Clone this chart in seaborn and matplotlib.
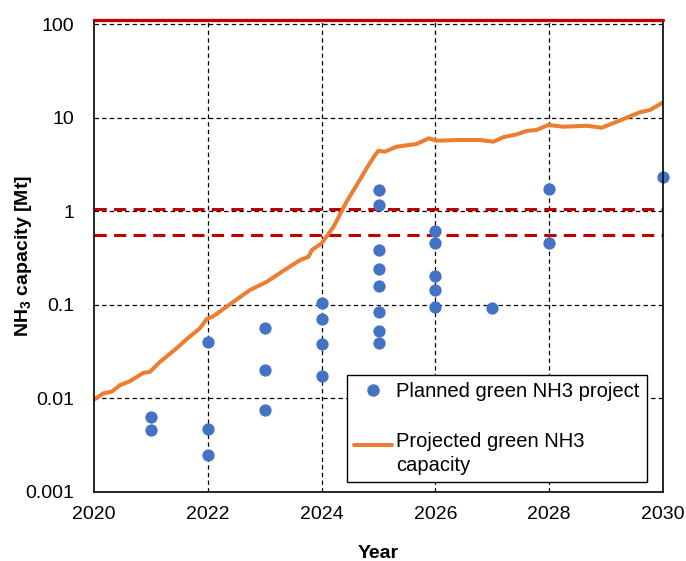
import numpy as np
import pandas as pd
import matplotlib
matplotlib.use("Agg")
import matplotlib.pyplot as plt
from matplotlib.lines import Line2D
import seaborn as sns

# Planned green ammonia projects (start year, capacity in Mt)
project_years = [2021, 2021,
                 2022, 2022, 2022,
                 2023, 2023, 2023,
                 2024, 2024, 2024, 2024,
                 2025, 2025, 2025, 2025, 2025, 2025, 2025, 2025,
                 2026, 2026, 2026, 2026, 2026,
                 2027,
                 2028, 2028,
                 2030]
project_capacity = [0.0063, 0.0046,
                    0.040, 0.0047, 0.0025,
                    0.057, 0.020, 0.0076,
                    0.104, 0.070, 0.038, 0.0173,
                    1.69, 1.17, 0.39, 0.24, 0.159, 0.083, 0.052, 0.039,
                    0.62, 0.46, 0.203, 0.143, 0.096,
                    0.093,
                    1.72, 0.455,
                    2.33]

# Projected cumulative green NH3 capacity (Mt)
proj_years = [2020.0, 2020.16, 2020.31, 2020.46, 2020.63, 2020.87, 2020.98,
              2021.16, 2021.45, 2021.63, 2021.86, 2021.98, 2022.10, 2022.45,
              2022.74, 2023.04, 2023.33, 2023.62, 2023.77, 2023.83, 2024.00,
              2024.21, 2024.44, 2024.67, 2024.79, 2024.94, 2025.00, 2025.11,
              2025.32, 2025.67, 2025.88, 2026.02, 2026.43, 2026.78, 2027.02,
              2027.19, 2027.43, 2027.60, 2027.78, 2027.98, 2028.25, 2028.66,
              2028.92, 2029.19, 2029.60, 2029.77, 2030.0]
proj_capacity = [0.0097, 0.0113, 0.0118, 0.0139, 0.0153, 0.0188, 0.0192,
                 0.0246, 0.0343, 0.0431, 0.0561, 0.0705, 0.0759, 0.108,
                 0.144, 0.177, 0.232, 0.301, 0.327, 0.386, 0.455,
                 0.684, 1.27, 2.16, 2.88, 4.0, 4.45, 4.34,
                 4.91, 5.25, 6.03, 5.69, 5.79, 5.79, 5.55,
                 6.19, 6.66, 7.23, 7.41, 8.37, 8.03, 8.22,
                 7.83, 9.08, 11.5, 12.1, 14.6]

# Reference levels (Mt)
total_level = 111
target_levels = [1.06, 0.56]

x_ticks = [2020, 2022, 2024, 2026, 2028, 2030]
y_ticks = [0.001, 0.01, 0.1, 1, 10, 100]
y_ticklabels = ["0.001", "0.01", "0.1", "1", "10", "100"]

BLUE = "#4472C4"
ORANGE = "#ED7D31"
RED = "#C00000"

sns.set_style("white")
plt.rcParams["font.family"] = ["Liberation Sans", "DejaVu Sans"]
plt.rcParams["mathtext.fontset"] = "custom"
plt.rcParams["mathtext.rm"] = "Liberation Sans"
plt.rcParams["mathtext.bf"] = "Liberation Sans:bold"
for key in ("text.color", "axes.labelcolor", "xtick.color", "ytick.color"):
    plt.rcParams[key] = "black"

fig = plt.figure(figsize=(6.86, 5.61), dpi=100)
ax = fig.add_axes([94 / 686, 1 - 492 / 561, (663 - 94) / 686, (492 - 20) / 561])

pts = pd.DataFrame({"year": project_years, "cap": project_capacity})
proj = pd.DataFrame({"year": proj_years, "cap": proj_capacity})

ax.set_yscale("log")
ax.set_xlim(2020, 2030)
ax.set_ylim(0.001, total_level)

# dashed black grid at the major ticks
grid_style = dict(color="black", lw=0.9, ls=(0, (3.5, 2.6)), zorder=1)
for xt in x_ticks[1:-1]:
    ax.axvline(xt, **grid_style)
for yt in y_ticks[1:]:
    ax.axhline(yt, **grid_style)

for lvl in target_levels:
    ax.axhline(lvl, color=RED, lw=2.2, ls=(0, (4, 2.4)), zorder=2)

sns.lineplot(data=proj, x="year", y="cap", ax=ax, color=ORANGE, lw=2.9,
             estimator=None, sort=False, zorder=3, legend=False)
sns.scatterplot(data=pts, x="year", y="cap", ax=ax, color=BLUE, s=78,
                linewidth=0, zorder=4, legend=False, clip_on=False)

ax.axhline(total_level, color=RED, lw=2.4, zorder=6, clip_on=False)

ax.set_xticks(x_ticks)
ax.set_xticklabels([str(x) for x in x_ticks], fontsize=14)
ax.set_yticks(y_ticks)
ax.set_yticklabels(y_ticklabels, fontsize=14)
ax.yaxis.set_minor_locator(matplotlib.ticker.NullLocator())
ax.tick_params(axis="both", length=0)
ax.tick_params(axis="x", pad=10)
ax.tick_params(axis="y", pad=14)

for sp in ax.spines.values():
    sp.set_color("black")
    sp.set_linewidth(1.2)
    sp.set_zorder(5)

ax.set_xlabel("Year", fontweight="bold", fontsize=14)
ax.set_ylabel(r"NH$_\mathbf{3}$ capacity [Mt]", fontweight="bold", fontsize=14)
ax.xaxis.set_label_coords(0.5, -0.113)
ax.yaxis.set_label_coords(-0.106, 0.5)

handles = [
    Line2D([], [], ls="none", marker="o", ms=9, color=BLUE, mec="none"),
    Line2D([], [], color=ORANGE, lw=2.9),
]
labels = ["Planned green NH3 project", "Projected green NH3\ncapacity"]
leg = ax.legend(handles, labels, loc="upper left",
                bbox_to_anchor=(347 / 686, 1 - 375 / 561),
                bbox_transform=fig.transFigure, fontsize=14.5,
                frameon=True, fancybox=False, framealpha=1, edgecolor="black",
                borderpad=0.35, labelspacing=1.55, handlelength=1.9,
                handletextpad=0.2, borderaxespad=0)
leg.get_frame().set_linewidth(1.0)
for t in leg.get_texts():
    t.set_linespacing(1.3)
# put the line key level with the first line of its two-line label
line_key = leg.legend_handles[1]
line_key.set_ydata([v + 6.5 for v in line_key.get_ydata()])
leg.set_zorder(7)

fig.savefig("out.png", dpi=100)
